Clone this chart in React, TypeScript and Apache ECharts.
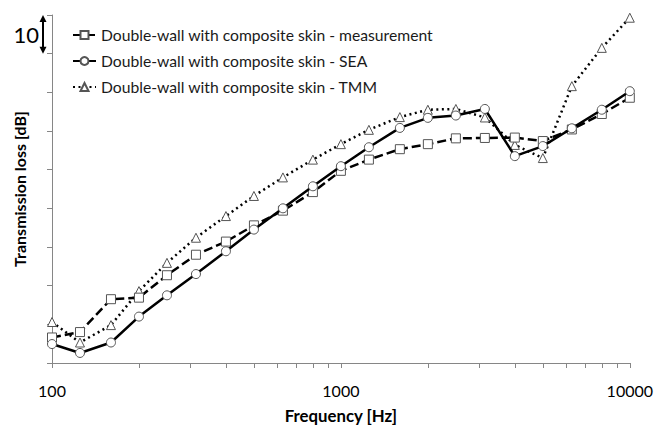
import React, { useEffect, useRef } from "react";
import * as echarts from "echarts";

const frequencies = [100, 125, 160, 200, 250, 315, 400, 500, 630, 800, 1000, 1250, 1600, 2000, 2500, 3150, 4000, 5000, 6300, 8000, 10000];
const measurement = [6.6, 8.0, 16.5, 16.9, 22.7, 28.0, 31.4, 35.6, 39.4, 44.2, 49.7, 52.6, 55.3, 56.6, 58.1, 58.2, 58.3, 57.4, 60.4, 64.4, 68.6];
const sea = [4.9, 2.6, 5.3, 12.0, 17.5, 23.0, 28.9, 34.5, 40.0, 45.7, 50.9, 55.8, 60.8, 63.4, 64.0, 65.7, 53.5, 56.1, 60.7, 65.5, 70.3];
const tmm = [10.6, 5.3, 9.8, 18.6, 25.9, 32.4, 38.0, 43.2, 48.0, 52.6, 56.6, 60.3, 63.6, 65.5, 65.7, 63.5, 56.4, 53.0, 71.6, 81.5, 89.3];
const xMinorTicks = [200, 300, 400, 500, 600, 700, 800, 900, 2000, 3000, 4000, 5000, 6000, 7000, 8000, 9000];
const seriesNames = [
  "Double-wall with composite skin - measurement",
  "Double-wall with composite skin - SEA",
  "Double-wall with composite skin - TMM",
];
const scaleBarLabel = "10";
const scaleBarTop = 90;
const scaleBarBottom = 80;

const FONT = "Lato, 'Open Sans', sans-serif";
const AXIS_GRAY = "#868686";
const MARKER_BORDER = "#555555";

export default function App() {
  const ref = useRef<HTMLDivElement>(null);
  useEffect(() => {
    if (!ref.current) return;
    const chart = echarts.init(ref.current, null, { renderer: "svg" });
    const pair = (vals: number[]) => frequencies.map((f, i) => [f, vals[i]]);
    const markerStyle = { color: "#ffffff", borderColor: MARKER_BORDER, borderWidth: 1 };
    chart.setOption({
      animation: false,
      textStyle: { fontFamily: FONT },
      grid: { left: 52, right: 26, top: 15, bottom: 58, containLabel: false },
      legend: {
        data: seriesNames,
        orient: "vertical",
        left: 67,
        top: 22,
        itemWidth: 23,
        itemHeight: 10,
        itemGap: 10,
        textStyle: { fontSize: 15.7, color: "#1a1a1a", fontFamily: FONT },
      },
      xAxis: {
        type: "log",
        logBase: 10,
        min: 100,
        max: 10000,
        name: "Frequency [Hz]",
        nameLocation: "middle",
        nameGap: 44,
        nameTextStyle: { fontSize: 16.8, fontWeight: "bold", color: "#000", fontFamily: FONT },
        axisLine: { lineStyle: { color: AXIS_GRAY, width: 1 } },
        axisTick: { show: true, length: 5, inside: false, lineStyle: { color: AXIS_GRAY } },
        axisLabel: {
          fontSize: 16,
          color: "#000",
          margin: 19,
          fontFamily: FONT,
          formatter: (v: number) => String(Math.round(v)),
        },
        splitLine: { show: false },
      },
      yAxis: {
        type: "value",
        min: 0,
        max: 90,
        interval: 10,
        name: "Transmission loss [dB]",
        nameLocation: "middle",
        nameGap: 25,
        nameTextStyle: { fontSize: 16, fontWeight: "bold", color: "#000", fontFamily: FONT },
        axisLine: { show: true, lineStyle: { color: AXIS_GRAY, width: 1 } },
        axisTick: { show: true, length: 5, lineStyle: { color: AXIS_GRAY } },
        axisLabel: { show: false },
        splitLine: { show: false },
      },
      series: [
        {
          name: seriesNames[0],
          type: "line",
          data: pair(measurement),
          symbol: "rect",
          symbolSize: 9,
          lineStyle: { color: "#000", width: 2.5, type: [9, 4] },
          itemStyle: markerStyle,
          z: 3,
        },
        {
          name: seriesNames[1],
          type: "line",
          data: pair(sea),
          symbol: "circle",
          symbolSize: 9,
          lineStyle: { color: "#000", width: 2.5, type: "solid" },
          itemStyle: markerStyle,
          z: 4,
        },
        {
          name: seriesNames[2],
          type: "line",
          data: pair(tmm),
          symbol: "triangle",
          symbolSize: 9,
          lineStyle: { color: "#000", width: 2.5, type: [2, 3.5] },
          itemStyle: markerStyle,
          z: 2,
        },
      ],
    });

    const yTop = chart.convertToPixel({ yAxisIndex: 0 }, scaleBarTop) as number;
    const yBot = chart.convertToPixel({ yAxisIndex: 0 }, scaleBarBottom) as number;
    const yAxisBase = chart.convertToPixel({ yAxisIndex: 0 }, 0) as number;
    const minorTickEls = xMinorTicks.map((v) => {
      const px = chart.convertToPixel({ xAxisIndex: 0 }, v) as number;
      return {
        type: "line",
        silent: true,
        shape: { x1: Math.round(px) + 0.5, y1: yAxisBase, x2: Math.round(px) + 0.5, y2: yAxisBase + 5 },
        style: { stroke: AXIS_GRAY, lineWidth: 1 },
      };
    });
    const ax = 43;
    chart.setOption({
      graphic: [
        ...minorTickEls,
        {
          type: "line",
          shape: { x1: ax, y1: yTop + 4, x2: ax, y2: yBot - 4 },
          style: { stroke: "#000", lineWidth: 2 },
        },
        {
          type: "polygon",
          shape: { points: [[ax - 3.5, yTop + 7], [ax, yTop], [ax + 3.5, yTop + 7]] },
          style: { fill: "#000" },
        },
        {
          type: "polygon",
          shape: { points: [[ax - 3.5, yBot - 7], [ax, yBot], [ax + 3.5, yBot - 7]] },
          style: { fill: "#000" },
        },
        {
          type: "text",
          x: 39,
          y: (yTop + yBot) / 2,
          style: {
            text: scaleBarLabel,
            fontSize: 22,
            fontFamily: FONT,
            fill: "#000",
            align: "right",
            verticalAlign: "middle",
          },
        },
      ],
    });

    return () => chart.dispose();
  }, []);
  return (
    <div
      ref={ref}
      style={{ position: "absolute", left: 0, top: 0, width: 656, height: 429 }}
    />
  );
}
